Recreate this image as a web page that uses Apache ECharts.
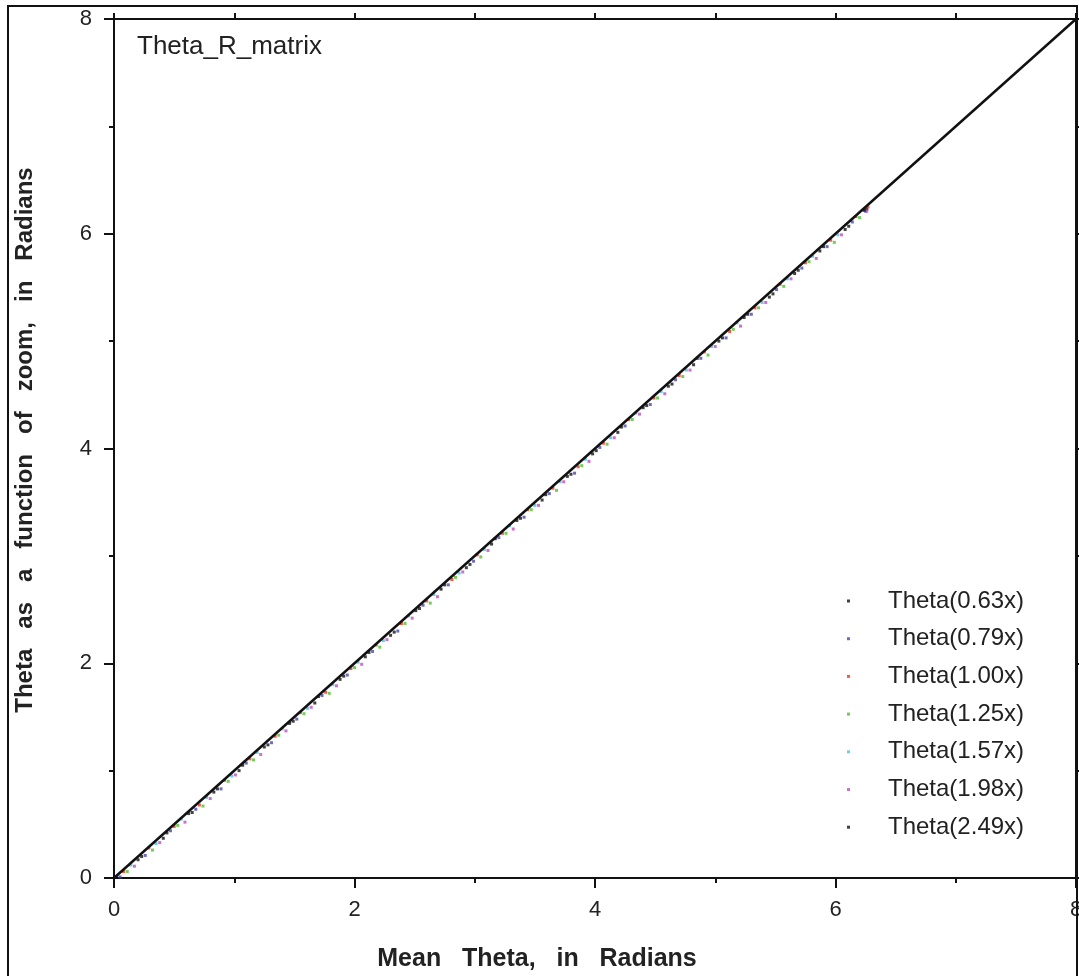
<!DOCTYPE html>
<html>
<head>
<meta charset="utf-8">
<script src="https://cdn.jsdelivr.net/npm/echarts@6/dist/echarts.min.js"></script>
<style>
html,body{margin:0;padding:0;background:#fff;}
#chart{width:1079px;height:976px;}
</style>
</head>
<body>
<div id="chart"></div>
<script>
// ---- data ----
const seriesNames = ['Theta(0.63x)','Theta(0.79x)','Theta(1.00x)','Theta(1.25x)','Theta(1.57x)','Theta(1.98x)','Theta(2.49x)'];
const seriesColors = ['#111111','#4848b0','#f03020','#50c030','#50c0d8','#c050c0','#111111'];
const axisTicks = [0, 2, 4, 6, 8];

const theta063X = [0.02,0.23,0.44,0.65,0.86,1.07,1.28,1.49,1.70,1.91,2.12,2.33,2.54,2.75,2.96,3.17,3.38,3.59,3.80,4.01,4.22,4.43,4.64,4.85,5.06,5.27,5.48,5.69,5.90,6.11,6.26];
const theta063Y = [0.01,0.20,0.42,0.61,0.83,1.05,1.24,1.46,1.69,1.88,2.10,2.29,2.51,2.73,2.92,3.16,3.35,3.57,3.76,3.98,4.20,4.40,4.60,4.84,5.03,5.25,5.44,5.66,5.88,6.07,6.23];

const theta079X = [0.05,0.26,0.47,0.68,0.89,1.10,1.31,1.52,1.73,1.94,2.15,2.36,2.57,2.78,2.99,3.20,3.41,3.62,3.83,4.04,4.25,4.46,4.67,4.88,5.09,5.30,5.51,5.72,5.93,6.14,6.25];
const theta079Y = [0.01,0.21,0.44,0.64,0.83,1.07,1.26,1.48,1.70,1.89,2.11,2.30,2.54,2.73,2.95,3.17,3.36,3.58,3.77,4.01,4.21,4.41,4.64,4.84,5.03,5.25,5.48,5.68,5.88,6.11,6.21];

const theta100X = [0.08,0.29,0.50,0.71,0.92,1.13,1.34,1.55,1.76,1.97,2.18,2.39,2.60,2.81,3.02,3.23,3.44,3.65,3.86,4.07,4.28,4.49,4.70,4.91,5.12,5.33,5.54,5.75,5.96,6.17,6.27];
const theta100Y = [0.06,0.28,0.48,0.68,0.91,1.11,1.32,1.54,1.73,1.95,2.17,2.37,2.58,2.78,3.01,3.21,3.43,3.63,3.83,4.05,4.27,4.47,4.68,4.90,5.09,5.31,5.53,5.73,5.94,6.16,6.25];

const theta125X = [0.11,0.32,0.53,0.74,0.95,1.16,1.37,1.58,1.79,2.00,2.21,2.42,2.63,2.84,3.05,3.26,3.47,3.68,3.89,4.10,4.31,4.52,4.73,4.94,5.15,5.36,5.57,5.78,5.99,6.20];
const theta125Y = [0.06,0.26,0.49,0.67,0.90,1.10,1.33,1.53,1.72,1.96,2.15,2.37,2.56,2.80,2.99,3.21,3.43,3.61,3.84,4.04,4.27,4.47,4.67,4.87,5.11,5.31,5.51,5.74,5.92,6.15];

const theta157X = [0.14,0.35,0.56,0.77,0.98,1.19,1.40,1.61,1.82,2.03,2.24,2.45,2.66,2.87,3.08,3.29,3.50,3.71,3.92,4.13,4.34,4.55,4.76,4.97,5.18,5.39,5.60,5.81,6.02,6.23];
const theta157Y = [0.12,0.32,0.55,0.75,0.95,1.17,1.39,1.58,1.80,2.01,2.21,2.44,2.64,2.84,3.06,3.28,3.47,3.69,3.90,4.10,4.33,4.53,4.73,4.95,5.17,5.36,5.58,5.79,5.99,6.22];

const theta198X = [0.17,0.38,0.59,0.80,1.01,1.22,1.43,1.64,1.85,2.06,2.27,2.48,2.69,2.90,3.11,3.32,3.53,3.74,3.95,4.16,4.37,4.58,4.79,5.00,5.21,5.42,5.63,5.84,6.05,6.26];
const theta198Y = [0.11,0.33,0.52,0.74,0.96,1.15,1.37,1.59,1.79,1.99,2.22,2.42,2.62,2.85,3.05,3.25,3.47,3.69,3.88,4.10,4.32,4.51,4.73,4.95,5.14,5.36,5.58,5.77,5.99,6.21];

const theta249X = [0.20,0.41,0.62,0.83,1.04,1.25,1.46,1.67,1.88,2.09,2.30,2.51,2.72,2.93,3.14,3.35,3.56,3.77,3.98,4.19,4.40,4.61,4.82,5.03,5.24,5.45,5.66,5.87,6.08,6.24];
const theta249Y = [0.17,0.37,0.60,0.80,1.00,1.22,1.44,1.63,1.85,2.06,2.26,2.49,2.69,2.89,3.11,3.33,3.52,3.74,3.95,4.15,4.38,4.58,4.78,5.00,5.22,5.41,5.63,5.84,6.04,6.22];

const identityX = [0, 8];
const identityY = [0, 8];

const seriesXs = [theta063X, theta079X, theta100X, theta125X, theta157X, theta198X, theta249X];
const seriesYs = [theta063Y, theta079Y, theta100Y, theta125Y, theta157Y, theta198Y, theta249Y];

// ---- chart ----
const FONT = "'Liberation Sans', Arial, Helvetica, sans-serif";
const zip = (xs, ys) => xs.map((x, i) => [x, ys[i]]);

const scatterSeries = seriesNames.map((name, i) => ({
  name: name,
  type: 'scatter',
  data: zip(seriesXs[i], seriesYs[i]),
  symbol: 'rect',
  symbolSize: 3,
  itemStyle: { color: seriesColors[i] },
  silent: true,
  z: 2
}));

const chart = echarts.init(document.getElementById('chart'), null, { renderer: 'canvas' });

const axisLineStyle = { color: '#111', width: 2 };

chart.setOption({
  animation: false,
  backgroundColor: '#ffffff',
  textStyle: { fontFamily: FONT },
  grid: { left: 114, right: 3, top: 19, bottom: 98, containLabel: false, outerBoundsMode: 'none' },
  title: {
    text: 'Theta_R_matrix',
    left: 137, top: 34,
    padding: 0,
    textStyle: { fontFamily: FONT, fontSize: 26, fontWeight: 'normal', color: '#222' }
  },
  legend: {
    data: seriesNames,
    orient: 'vertical',
    left: 847, top: 589,
    padding: 0,
    icon: 'rect',
    itemWidth: 3, itemHeight: 3,
    itemGap: 13.7,
    selectedMode: false,
    textStyle: { fontFamily: FONT, fontSize: 24, lineHeight: 24, color: '#222', padding: [0, 0, 0, 33] }
  },
  xAxis: [
    {
      type: 'value', position: 'bottom', min: axisTicks[0], max: axisTicks[axisTicks.length - 1], interval: 2,
      axisLine: { show: true, onZero: false, lineStyle: axisLineStyle },
      axisTick: { show: true, inside: false, length: 10, lineStyle: axisLineStyle },
      minorTick: { show: true, splitNumber: 2, length: 5, lineStyle: axisLineStyle },
      splitLine: { show: false }, minorSplitLine: { show: false },
      axisLabel: { fontFamily: FONT, fontSize: 22, color: '#222', margin: 21 }
    },
    {
      type: 'value', position: 'top', min: 0, max: 8, interval: 1,
      axisLine: { show: true, onZero: false, lineStyle: axisLineStyle },
      axisTick: { show: true, inside: false, length: 6, lineStyle: axisLineStyle },
      splitLine: { show: false },
      axisLabel: { show: false }
    }
  ],
  yAxis: [
    {
      type: 'value', position: 'left', min: axisTicks[0], max: axisTicks[axisTicks.length - 1], interval: 2,
      axisLine: { show: true, onZero: false, lineStyle: axisLineStyle },
      axisTick: { show: true, inside: false, length: 10, lineStyle: axisLineStyle },
      minorTick: { show: true, splitNumber: 2, length: 5, lineStyle: axisLineStyle },
      splitLine: { show: false }, minorSplitLine: { show: false },
      axisLabel: { fontFamily: FONT, fontSize: 22, color: '#222', margin: 22 }
    },
    {
      type: 'value', position: 'right', min: 0, max: 8, interval: 1,
      axisLine: { show: true, onZero: false, lineStyle: axisLineStyle },
      axisTick: { show: true, inside: false, length: 6, lineStyle: axisLineStyle },
      splitLine: { show: false },
      axisLabel: { show: false }
    }
  ],
  series: scatterSeries.concat([{
    name: 'identity',
    type: 'line',
    data: zip(identityX, identityY),
    showSymbol: false,
    symbol: 'none',
    lineStyle: { color: '#111', width: 2.5 },
    silent: true,
    z: 5
  }]),
  graphic: [
    {
      type: 'rect',
      shape: { x: 8, y: 6, width: 1069, height: 1000 },
      style: { fill: 'none', stroke: '#111', lineWidth: 2 },
      silent: true, z: 10
    },
    {
      type: 'text',
      x: 537, y: 959,
      style: {
        text: 'Mean   Theta,   in   Radians',
        fontFamily: FONT, fontSize: 25, fontWeight: 'bold', fill: '#222',
        textAlign: 'center', textVerticalAlign: 'middle'
      },
      silent: true
    },
    {
      type: 'text',
      x: 25, y: 440,
      rotation: Math.PI / 2,
      style: {
        text: 'Theta   as   a   function   of   zoom,   in   Radians',
        fontFamily: FONT, fontSize: 24, fontWeight: 'bold', fill: '#222',
        textAlign: 'center', textVerticalAlign: 'middle'
      },
      silent: true
    }
  ]
});
</script>
</body>
</html>
